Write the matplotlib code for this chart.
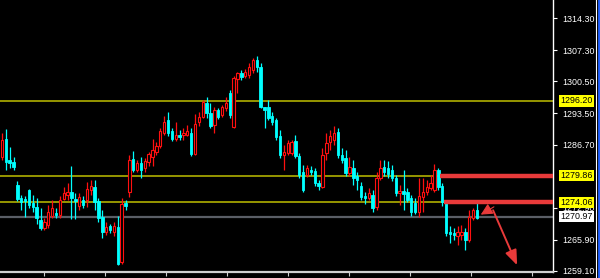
import matplotlib
matplotlib.use("Agg")
import matplotlib.pyplot as plt
import numpy as np
from matplotlib.lines import Line2D

# candle data (price units)
opens = [1284.0, 1287.9, 1283.3, 1282.9, 1277.9, 1275.0, 1274.8, 1276.8, 1273.9, 1273.1,
         1270.2, 1268.5, 1269.1, 1271.1, 1271.8, 1271.3, 1274.8, 1275.7, 1276.3, 1274.8,
         1273.3, 1274.6, 1274.6, 1276.8, 1277.4, 1274.4, 1270.9, 1267.6, 1268.9, 1267.6,
         1268.7, 1261.1, 1273.9, 1276.3, 1283.5, 1281.1, 1282.7, 1281.6, 1282.9, 1284.0,
         1285.1, 1286.4, 1289.2, 1292.1, 1289.6, 1287.9, 1288.8, 1288.8, 1288.8, 1289.2,
         1284.6, 1291.6, 1292.7, 1295.8, 1293.6, 1291.0, 1294.2, 1293.1, 1294.7, 1297.9,
         1290.5, 1301.0, 1302.3, 1301.6, 1301.9, 1303.0, 1305.1, 1303.6, 1294.9, 1294.9,
         1292.9, 1292.1, 1288.6, 1284.4, 1284.9, 1284.9, 1287.5, 1284.2, 1280.7, 1280.0,
         1281.1, 1280.9, 1278.3, 1277.4, 1284.9, 1287.3, 1287.7, 1289.4, 1284.4, 1283.8,
         1280.5, 1281.6, 1279.8, 1277.6, 1275.5, 1275.0, 1275.7, 1273.1, 1279.4, 1281.8,
         1281.6, 1281.1, 1279.4, 1276.1, 1276.6, 1276.3, 1275.0, 1273.9, 1272.0, 1275.2,
         1276.3, 1277.2, 1276.8, 1281.1, 1277.6, 1274.2, 1267.6, 1267.4, 1266.7, 1267.0,
         1267.6, 1265.9, 1270.7, 1272.4]
highs = [1289.2, 1290.1, 1286.2, 1284.0, 1278.7, 1275.7, 1275.5, 1277.0, 1275.7, 1275.0,
         1272.8, 1270.7, 1273.5, 1274.6, 1272.8, 1275.5, 1277.4, 1278.3, 1282.0, 1276.1,
         1276.1, 1275.5, 1278.5, 1279.0, 1279.0, 1275.0, 1272.4, 1269.8, 1269.4, 1269.8,
         1271.1, 1275.0, 1274.6, 1284.4, 1285.3, 1283.3, 1284.0, 1283.8, 1285.1, 1287.9,
         1287.3, 1290.3, 1292.9, 1293.8, 1290.3, 1291.6, 1289.9, 1290.3, 1291.0, 1290.3,
         1293.4, 1293.8, 1296.4, 1297.1, 1295.8, 1294.9, 1294.7, 1295.3, 1297.1, 1298.6,
         1301.6, 1302.5, 1303.0, 1303.2, 1304.5, 1305.6, 1306.0, 1304.5, 1294.9, 1296.4,
         1293.8, 1292.5, 1289.9, 1286.6, 1287.7, 1287.7, 1288.8, 1284.9, 1282.2, 1282.2,
         1282.0, 1281.6, 1279.0, 1285.9, 1289.2, 1289.9, 1290.7, 1290.3, 1285.9, 1285.5,
         1284.0, 1283.3, 1280.7, 1278.5, 1276.3, 1277.2, 1276.8, 1280.7, 1283.3, 1283.3,
         1283.1, 1282.2, 1280.0, 1277.9, 1281.1, 1277.2, 1275.7, 1275.0, 1279.4, 1279.4,
         1279.0, 1280.0, 1282.4, 1281.6, 1278.3, 1274.6, 1268.9, 1268.5, 1268.9, 1269.1,
         1268.5, 1272.4, 1272.8, 1273.9]
lows = [1283.3, 1281.1, 1281.6, 1281.1, 1274.4, 1272.4, 1270.9, 1272.8, 1272.0, 1269.4,
        1268.0, 1268.0, 1268.5, 1270.7, 1270.7, 1270.7, 1274.6, 1274.6, 1270.4, 1270.4,
        1272.4, 1272.8, 1273.1, 1275.7, 1272.4, 1269.8, 1266.3, 1267.0, 1267.4, 1266.7,
        1260.4, 1260.6, 1272.4, 1275.2, 1280.7, 1280.7, 1279.4, 1280.7, 1282.0, 1282.0,
        1284.4, 1285.9, 1288.8, 1288.6, 1287.5, 1287.5, 1287.7, 1287.7, 1288.6, 1284.2,
        1284.4, 1290.7, 1292.5, 1292.5, 1290.3, 1289.2, 1292.3, 1292.7, 1294.0, 1292.5,
        1290.3, 1297.9, 1300.8, 1301.2, 1301.2, 1302.3, 1302.5, 1294.7, 1290.3, 1292.1,
        1291.0, 1287.7, 1283.8, 1281.1, 1284.4, 1284.4, 1283.8, 1279.4, 1276.3, 1279.6,
        1280.0, 1277.6, 1276.8, 1277.2, 1283.3, 1285.5, 1286.6, 1283.8, 1282.7, 1279.8,
        1279.8, 1277.9, 1276.8, 1274.6, 1273.7, 1274.6, 1272.0, 1272.4, 1279.0, 1279.8,
        1279.4, 1278.7, 1275.5, 1273.5, 1272.4, 1274.2, 1271.1, 1271.5, 1270.9, 1272.0,
        1275.7, 1276.8, 1276.3, 1276.8, 1273.3, 1266.7, 1265.2, 1265.9, 1264.8, 1265.9,
        1263.7, 1265.4, 1270.2, 1270.4]
closes = [1287.7, 1282.9, 1282.7, 1281.8, 1274.8, 1274.2, 1274.4, 1273.5, 1273.1, 1270.7,
          1268.5, 1269.8, 1272.0, 1272.8, 1271.3, 1274.6, 1276.1, 1276.3, 1275.0, 1274.4,
          1275.2, 1273.5, 1277.0, 1277.6, 1274.2, 1270.7, 1267.6, 1268.7, 1268.0, 1268.9,
          1260.6, 1273.7, 1273.3, 1283.3, 1281.1, 1282.7, 1281.1, 1283.1, 1284.6, 1285.5,
          1286.4, 1289.6, 1291.6, 1289.2, 1287.9, 1288.8, 1288.3, 1289.2, 1289.6, 1284.6,
          1291.2, 1292.7, 1296.0, 1293.6, 1290.7, 1294.2, 1292.7, 1294.9, 1295.8, 1293.1,
          1301.2, 1302.3, 1301.4, 1302.5, 1303.6, 1305.1, 1303.6, 1294.9, 1294.2, 1292.5,
          1291.6, 1288.3, 1284.4, 1285.1, 1287.0, 1287.3, 1284.2, 1280.0, 1276.8, 1281.6,
          1280.7, 1278.3, 1277.6, 1284.4, 1287.0, 1288.6, 1289.2, 1284.4, 1283.3, 1280.5,
          1281.8, 1279.4, 1279.0, 1275.2, 1275.0, 1276.1, 1272.8, 1279.4, 1281.6, 1280.7,
          1280.3, 1279.4, 1276.1, 1276.6, 1275.9, 1274.6, 1272.0, 1272.0, 1275.5, 1276.3,
          1277.4, 1278.3, 1281.1, 1277.4, 1274.2, 1267.4, 1267.2, 1267.0, 1267.6, 1267.6,
          1265.9, 1270.9, 1272.4, 1270.7]

price_ticks = [1314.30, 1307.30, 1300.50, 1293.50, 1286.70, 1272.90, 1265.90, 1259.10]
yellow_levels = [1296.20, 1279.86, 1274.06]
gray_level = 1270.97
red_levels = [1279.86, 1274.06]
red_starts = [113.5, 114.5]   # candle index where the thick red lines begin

opens = np.array(opens); closes = np.array(closes)
highs = np.array(highs); lows = np.array(lows)
idx = np.arange(len(opens))
up = closes >= opens

RED = '#ff1010'
CYAN = '#00ffff'

fig = plt.figure(figsize=(6, 2.78), dpi=100, facecolor='black')
ax = fig.add_axes([0, 6/278, 553/600, 272/278])
ax.set_facecolor('black')

# level lines
for lv in yellow_levels:
    ax.axhline(lv, color='#b0b000', lw=1.2, zorder=1)
ax.axhline(gray_level, color='#5a5e66', lw=1.6, zorder=1)

# wicks
ax.vlines(idx[up], lows[up], highs[up], color=RED, lw=0.9, zorder=2)
ax.vlines(idx[~up], lows[~up], highs[~up], color=CYAN, lw=0.9, zorder=2)

# bodies
w = 0.62
ax.bar(idx[up], closes[up] - opens[up], bottom=opens[up], width=w,
       facecolor='black', edgecolor=RED, linewidth=0.8, zorder=3)
ax.bar(idx[~up], closes[~up] - opens[~up], bottom=opens[~up], width=w,
       facecolor=CYAN, edgecolor=CYAN, linewidth=0.6, zorder=3)

# thick red horizontal levels to the price axis
for lv, s in zip(red_levels, red_starts):
    ax.plot([s, 143], [lv, lv], color='#e83a3a', lw=3.2, solid_capstyle='butt', zorder=4)

# red arrows
ax.annotate('', xy=(133.7, 1259.8), xytext=(126.9, 1272.9),
            arrowprops=dict(arrowstyle='-|>,head_length=0.9,head_width=0.35',
                            color='#e83a3a', lw=1.4), zorder=5)
ax.annotate('', xy=(124.0, 1271.4), xytext=(127.4, 1273.1),
            arrowprops=dict(arrowstyle='-|>,head_length=1.0,head_width=0.5',
                            color='#e83a3a', lw=0.8, mutation_scale=7,
                            shrinkA=0, shrinkB=0), zorder=5)

ax.set_xlim(-0.5, 142.7)
ax.set_ylim(1258.88, 1318.23)

for s in ['left', 'top']:
    ax.spines[s].set_visible(False)
ax.spines['right'].set_color('white')
ax.spines['bottom'].set_color('#d0d0d0')
ax.spines['right'].set_linewidth(1.0)
ax.spines['bottom'].set_linewidth(1.6)

ax.yaxis.tick_right()
ax.set_yticks(price_ticks)
ax.set_yticklabels(['%.2f' % p for p in price_ticks])
ax.tick_params(axis='y', colors='white', length=3, width=0.8, pad=4,
               labelsize=6.4, labelfontfamily='Liberation Sans')

ax.set_xticks(np.arange(10.9, 142, 15.8))
ax.set_xticklabels([])
ax.tick_params(axis='x', colors='#d0d0d0', length=3, width=0.8)

# highlighted level labels on the price scale
for lv in yellow_levels:
    ax.text(1.013, lv, '%.2f' % lv, transform=ax.get_yaxis_transform(),
            ha='left', va='center', fontsize=6.4, family='Liberation Sans', color='black',
            bbox=dict(boxstyle='square,pad=0.12', facecolor='#ffff00', edgecolor='none'),
            clip_on=False, zorder=10)
ax.text(1.013, gray_level, '%.2f' % gray_level, transform=ax.get_yaxis_transform(),
        ha='left', va='center', fontsize=6.4, family='Liberation Sans', color='black',
        bbox=dict(boxstyle='square,pad=0.12', facecolor='white', edgecolor='none'),
        clip_on=False, zorder=10)

# window border on the right
fig.add_artist(Line2D([595.5/600, 595.5/600], [0, 1], color='white', lw=0.8))
fig.add_artist(Line2D([598.5/600, 598.5/600], [0, 1], color='#2060ff', lw=2))

fig.savefig('out.png', dpi=100, facecolor='black')
